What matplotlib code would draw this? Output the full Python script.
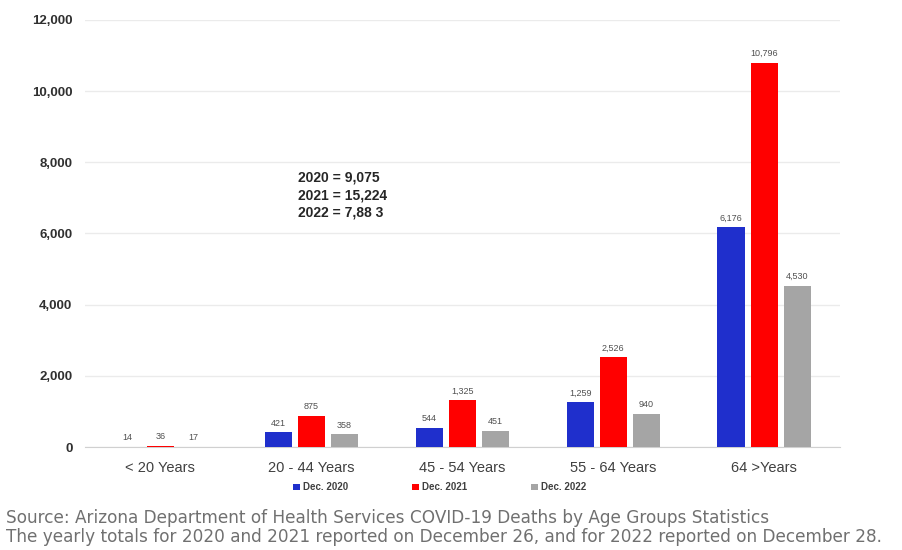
import numpy as np
import matplotlib
matplotlib.use("Agg")
import matplotlib.pyplot as plt
from matplotlib.ticker import FuncFormatter

plt.rcParams['font.family'] = ['Liberation Sans', 'DejaVu Sans']

# COVID-19 deaths by age group
age_groups = ['< 20 Years', '20 - 44 Years', '45 - 54 Years', '55 - 64 Years', '64 >Years']
deaths_2020 = [14, 421, 544, 1259, 6176]
deaths_2021 = [36, 875, 1325, 2526, 10796]
deaths_2022 = [17, 358, 451, 940, 4530]
series_names = ['Dec. 2020', 'Dec. 2021', 'Dec. 2022']
yearly_totals = ['2020 = 9,075', '2021 = 15,224', '2022 = 7,88 3']

colors = ['#1f2fcc', '#ff0000', '#a5a5a5']

fig = plt.figure(figsize=(9.03, 5.5), dpi=100)
ax = fig.add_axes([0.094, 0.187, 0.836, 0.777])

x = np.arange(len(age_groups))
width = 0.18
step = 0.22
for i, (vals, name, col) in enumerate(zip([deaths_2020, deaths_2021, deaths_2022], series_names, colors)):
    pos = x + (i - 1) * step
    ax.bar(pos, vals, width, color=col, label=name, zorder=3)
    for px, v in zip(pos, vals):
        ax.text(px, v + 130, f'{v:,}', ha='center', va='bottom', fontsize=6.5, color='#505050')

ax.set_ylim(0, 12000)
ax.set_xlim(-0.5, len(age_groups) - 0.5)
ax.set_yticks(np.arange(0, 12001, 2000))
ax.yaxis.set_major_formatter(FuncFormatter(lambda v, _: f'{int(v):,}'))
ax.set_xticks(x)
ax.set_xticklabels(age_groups, fontsize=10.5, color='#404040')
for lbl in ax.get_yticklabels():
    lbl.set_fontsize(9.5)
    lbl.set_fontweight('bold')
    lbl.set_color('#303030')

ax.grid(axis='y', color='#ebebeb', linewidth=1, zorder=0)
ax.tick_params(axis='y', length=0, pad=9)
ax.tick_params(axis='x', length=0, pad=10)
for side in ['top', 'right', 'left']:
    ax.spines[side].set_visible(False)
ax.spines['bottom'].set_color('#d0d0d0')

# yearly totals, one line each
for k, line in enumerate(yearly_totals):
    ax.text(0.282, 0.632 - k * 0.042, line, transform=ax.transAxes, fontsize=10,
            fontweight='bold', color='#262626', va='center', ha='left')

leg = ax.legend(loc='center', bbox_to_anchor=(0.47, -0.094), ncol=3, frameon=False,
                prop={'size': 7, 'weight': 'bold'}, handlelength=0.7, handleheight=0.7,
                columnspacing=6.5, handletextpad=0.4)
for t in leg.get_texts():
    t.set_color('#404040')

src_font = dict(fontsize=12.2, color='#707070', ha='left', va='center', family='DejaVu Sans')
fig.text(0.007, 0.059, 'Source: Arizona Department of Health Services COVID-19 Deaths by Age Groups Statistics',
         **src_font)
fig.text(0.007, 0.0236, 'The yearly totals for 2020 and 2021 reported on December 26, and for 2022 reported on December 28.',
         **src_font)

fig.savefig('out.png', dpi=100)
